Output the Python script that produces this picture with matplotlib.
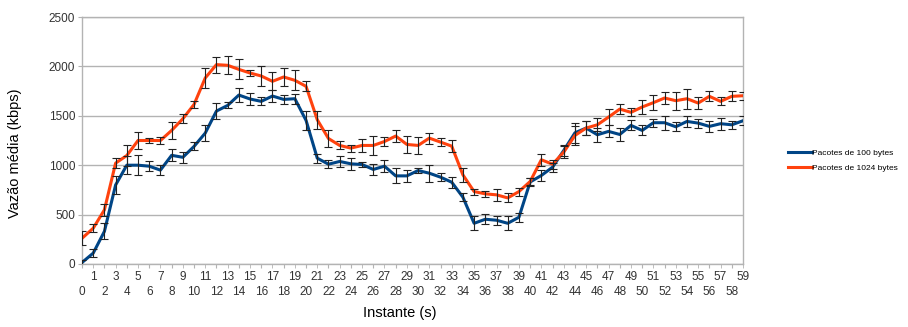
import numpy as np
import matplotlib
matplotlib.use("Agg")
import matplotlib.pyplot as plt
from matplotlib.ticker import FixedLocator

plt.rcParams['font.family'] = ['Liberation Sans', 'DejaVu Sans']

instante = np.arange(60)

# vazão média (kbps) e desvio de cada instante
vazao_100 = [15, 110, 330, 800, 1000, 1000, 990, 950, 1100, 1080,
             1190, 1325, 1548, 1605, 1710, 1670, 1646, 1700, 1666, 1673,
             1453, 1071, 1010, 1038, 1014, 1007, 957, 990, 892, 892,
             946, 919, 879, 828, 676, 412, 453, 443, 412, 473,
             830, 896, 980, 1149, 1328, 1376, 1308, 1342, 1311, 1403,
             1352, 1430, 1430, 1389, 1443, 1426, 1393, 1420, 1409, 1450]
erro_100 = [30, 40, 80, 90, 90, 100, 50, 50, 60, 55,
            40, 80, 80, 30, 70, 60, 40, 60, 45, 50,
            100, 45, 40, 60, 60, 25, 55, 60, 75, 60,
            30, 85, 40, 55, 40, 70, 50, 45, 70, 45,
            40, 60, 45, 60, 100, 75, 70, 60, 70, 50,
            50, 40, 70, 45, 55, 45, 55, 60, 40, 45]

vazao_1024 = [260, 362, 548, 1021, 1098, 1250, 1250, 1250, 1352, 1470,
              1615, 1883, 2018, 2011, 1970, 1933, 1903, 1849, 1893, 1859,
              1798, 1460, 1270, 1200, 1173, 1200, 1200, 1240, 1295, 1210,
              1200, 1274, 1234, 1193, 902, 733, 710, 700, 669, 733,
              835, 1055, 1010, 1132, 1301, 1376, 1409, 1487, 1568, 1535,
              1589, 1633, 1680, 1653, 1673, 1629, 1697, 1646, 1697, 1703]
erro_1024 = [70, 40, 60, 50, 105, 85, 30, 40, 85, 45,
             35, 100, 80, 90, 100, 35, 100, 90, 95, 100,
             50, 90, 90, 40, 35, 70, 95, 45, 65, 90,
             85, 55, 40, 60, 70, 30, 30, 60, 45, 40,
             40, 60, 45, 60, 100, 75, 65, 85, 50, 40,
             70, 75, 60, 90, 100, 60, 50, 40, 50, 40]

fig = plt.figure(figsize=(9.08, 3.27), dpi=100)
ax = fig.add_axes([82 / 908, 1 - 264 / 327, 661 / 908, 247 / 327])

cinza = '#b3b3b3'
ax.grid(axis='y', color=cinza, lw=1)
ax.set_axisbelow(True)

ax.plot(instante, vazao_100, color='#004586', lw=2.2, label='Pacotes de 100 bytes', zorder=3)
ax.plot(instante, vazao_1024, color='#ff420e', lw=2.2, label='Pacotes de 1024 bytes', zorder=3)
for y, e in ((vazao_100, erro_100), (vazao_1024, erro_1024)):
    ax.errorbar(instante, y, yerr=e, fmt='none', ecolor='#222222', elinewidth=0.8,
                capsize=2.6, capthick=0.8, zorder=4)

ax.set_xlim(0, 59)
ax.set_ylim(0, 2500)
ax.set_yticks(range(0, 2501, 500))

# pares em baixo, ímpares na linha de cima
ax.xaxis.set_major_locator(FixedLocator(range(0, 60, 2)))
ax.xaxis.set_minor_locator(FixedLocator(range(1, 60, 2)))
ax.set_xticklabels([str(i) for i in range(0, 60, 2)])
ax.set_xticklabels([str(i) for i in range(1, 60, 2)], minor=True)
ax.tick_params(axis='x', which='major', length=3, color=cinza, pad=12.5, labelsize=8.5, labelcolor='#333333')
ax.tick_params(axis='x', which='minor', length=3, color=cinza, pad=2, labelsize=8.5, labelcolor='#333333')
ax.tick_params(axis='y', length=3, color=cinza, pad=2, labelsize=8.5, labelcolor='#333333')

for s in ax.spines.values():
    s.set_color(cinza)
    s.set_linewidth(1)

ax.set_xlabel('Instante (s)', fontsize=10.5, labelpad=10)
ax.set_ylabel('Vazão média (kbps)', fontsize=10.5)
ax.xaxis.set_label_coords(0.48, -0.2)
ax.xaxis.label.set_va('center')
ax.yaxis.set_label_coords(-0.091, 0.45)

fig.legend(loc='center left', bbox_to_anchor=(784 / 908, 1 - 160.5 / 327), frameon=False,
           fontsize=6, handlelength=2.8, handletextpad=0.1, labelspacing=0.9, borderpad=0)

fig.savefig('out.png', dpi=100)
